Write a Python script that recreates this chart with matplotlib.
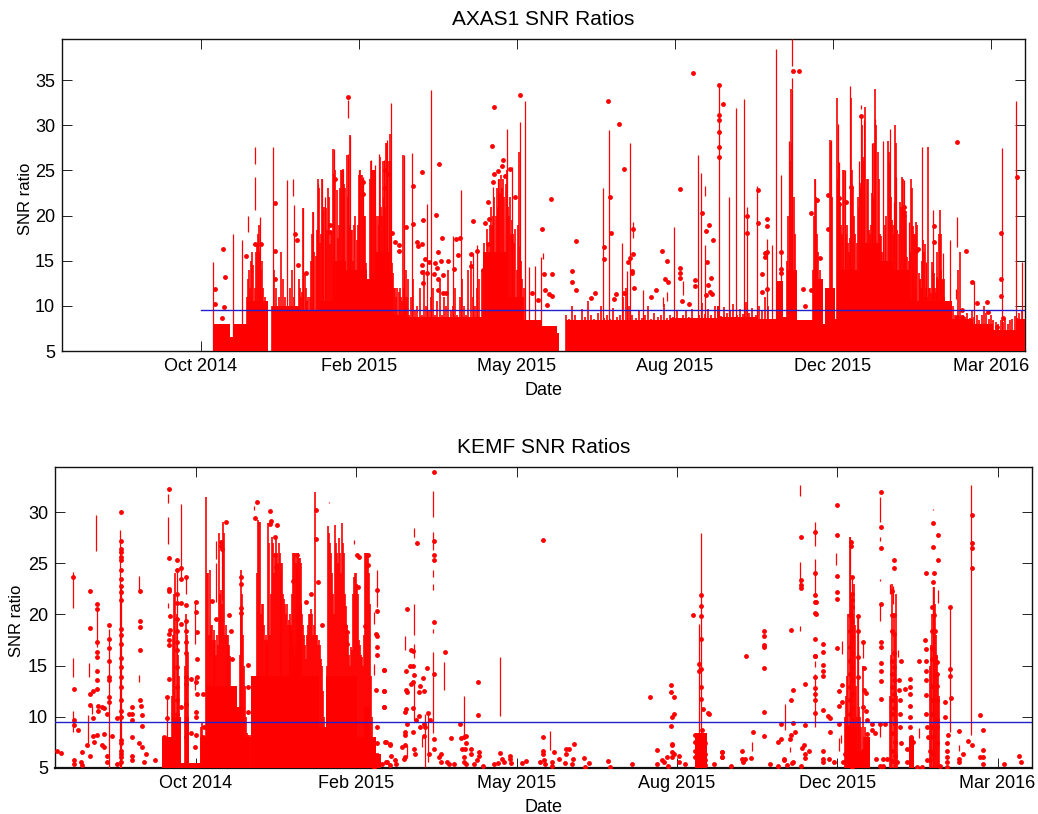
import matplotlib
matplotlib.use("Agg")
import matplotlib.pyplot as plt
import numpy as np

plt.rcParams['font.family'] = ['Liberation Sans', 'DejaVu Sans']

# x values: days after the first labelled tick
TICK_DAYS = [0, 100, 200, 300, 400, 500]
TICK_LABELS = ['Oct 2014', 'Feb 2015', 'May 2015', 'Aug 2015', 'Dec 2015', 'Mar 2016']
THRESHOLD = 9.5

# ---------- AXAS1 ----------
AX_BASE_DAYS = [7.6, 18.4, 20.3, 29, 42.4, 44.9, 62.7, 75.3, 83.7, 92, 105, 111, 119.6, 121.7,
                130, 178.5, 193.7, 204, 215, 225, 226.6, 231, 297, 326.6, 328.5, 352, 364, 368.4,
                371, 377, 387.3, 393.7, 395, 401, 402.5, 417, 430, 438, 449, 475, 488.6, 501, 516, 521.5]
AX_BASE_TOPS = [8, 6.5, 8, 10.5, 5, 10, 9.5, 10.5, 15, 14, 13, 16, 13, 9,
                8.8, 16, 11, 8.4, 7.8, 7, 5, 8.4, 8.6, 10, 8.8, 8.5, 12.8, 8.8,
                14, 8.4, 13, 8, 12, 8.5, 14, 17, 15, 14, 10.5, 8.5, 8, 7.3, 8.5, 8.5]
# finely sampled columns: start day, spacing in days, column tops
AX_ZONE_A_START, AX_ZONE_A_STEP = 62.7, 0.7
AX_ZONE_A = [12, 11, 11.5, 20.8, 13.5, 12, 10.5, 11, 9.5, 11, 15, 18, 20.4, 16, 15.5, 18.4, 24, 23, 17, 18, 24, 20.6, 21,
             20.8, 18.4, 23, 22, 16.9, 18, 18, 27.4, 24.6, 25, 22.8, 17.5, 19, 23, 25, 25, 25.2, 23.5, 23, 26.7, 22, 19,
             28.9, 18.4, 18.4, 15, 19, 20, 17.3, 19, 24.5, 25, 24.5, 24.5, 24, 20, 20, 14.7, 13, 12, 24, 26, 25, 25, 25,
             25, 20, 20, 19, 26.5, 21, 20, 26, 22, 21, 28, 28, 26, 29, 26, 14.7, 13.6, 12, 12, 11, 12, 11.5, 12, 11, 10.5,
             26.7, 12, 11, 14, 11, 13]
AX_ZONE_B_START, AX_ZONE_B_STEP = 178.7, 0.7
AX_ZONE_B = [14, 17, 15.5, 18.5, 17, 16, 19, 21, 19, 20, 22, 20, 23, 21, 24, 22.5, 24.5, 23, 24, 22, 23.5, 25, 21, 20, 22,
             18, 19.5, 18, 17, 18.5, 14, 19, 27, 16.5, 15, 13, 11, 12]
AX_ZONE_C_START, AX_ZONE_C_STEP = 398.1, 0.7
AX_ZONE_C = [28.4, 28, 22, 9, 8, 8.5, 33, 24, 22, 21.5, 19, 18, 25, 25, 18, 19, 17, 16, 17.5, 33, 25, 23, 20, 18, 17, 22,
             21, 23.6, 23, 30, 26.5, 26, 32, 24, 24, 18.4, 18, 19, 22.5, 22, 28, 34, 30, 27, 24, 18, 17.7, 16, 14, 14.5, 19,
             20, 28.2, 27, 25.8, 22, 19.5, 19, 18, 30, 28, 18.4, 18, 21.5, 21, 24.3, 24, 20, 20.2, 20, 15.4, 15, 16, 24, 23,
             18.8, 18, 18, 19.3, 19, 13.6, 13, 12, 11.8, 17.3, 16, 16.9, 12, 11, 27.6, 12, 11.4, 14.9, 14, 13.6, 12, 11.5,
             13.2, 13, 20.6, 18, 13, 12.9, 13]
AX_ZONE_D_START, AX_ZONE_D_STEP = 29, 0.7
AX_ZONE_D = [11, 13, 14, 12, 15, 16, 14.5, 12, 16, 17, 18, 19, 16, 14, 15, 12, 11]
AX_ZONE_E_START, AX_ZONE_E_STEP = 130, 1.4
AX_ZONE_E = [10, 9, 11, 13, 9.5, 10, 12, 9, 14, 10, 9.5, 11, 12, 9, 10.5, 13, 9, 11, 10, 14, 9.5, 10, 12, 9, 11, 13, 10, 9,
             14, 15, 11, 10, 12, 13, 14]
AX_ZONE_F_START, AX_ZONE_F_STEP = 231, 2.0
AX_ZONE_F = [9, 8.5, 10, 9, 8.4, 9.6, 8.8, 10.5, 9, 8.5, 9.2, 10, 8.6, 9, 8.5, 9.8, 8.8, 9, 11, 12, 10, 9, 8.6, 9.4, 8.6, 9,
             10, 8.5, 9.2, 8.8, 9, 10.2, 8.6, 9, 8.8, 9.5, 8.6, 9, 9.4, 8.8, 9.6, 8.7, 9, 10.3, 9.1, 9.6, 9, 10, 9.2, 8.9,
             9.9, 9.2, 9.4, 10.2, 9, 9.6, 9.1, 10.4, 9.2, 9.8, 9, 10, 9.5, 11, 10]
AX_ZONE_G_START, AX_ZONE_G_STEP = 449, 1.5
AX_ZONE_G = [11, 14, 12, 10, 13, 15, 11, 9, 12, 10, 9, 16, 18, 14, 11, 9, 10, 8.6, 10, 9, 14, 16, 9, 8.8, 9.2, 8.6, 9.5, 8.8,
             9, 8.4, 9, 10, 9.2, 8.5, 9, 8.4, 8.2, 8, 8.4, 8.2, 8.6, 8, 8.4, 8.5, 8.9, 8.6, 9.2, 9.5]
AX_ZONE_H_START, AX_ZONE_H_STEP = 44.9, 1.4
AX_ZONE_H = [10, 14, 12, 11, 16, 13, 11, 10, 12, 14, 11, 10, 13]
AX_ZONE_I_START, AX_ZONE_I_STEP = 371, 0.8
AX_ZONE_I = [15, 20, 26, 34, 28, 22, 18, 14]
AX_ZONE_J_START, AX_ZONE_J_STEP = 387.3, 0.7
AX_ZONE_J = [14, 20, 24, 22, 18, 16, 14, 12, 10]
AX_ZONES = [(AX_ZONE_A_START, AX_ZONE_A_STEP, AX_ZONE_A), (AX_ZONE_B_START, AX_ZONE_B_STEP, AX_ZONE_B),
            (AX_ZONE_C_START, AX_ZONE_C_STEP, AX_ZONE_C), (AX_ZONE_D_START, AX_ZONE_D_STEP, AX_ZONE_D),
            (AX_ZONE_E_START, AX_ZONE_E_STEP, AX_ZONE_E), (AX_ZONE_F_START, AX_ZONE_F_STEP, AX_ZONE_F),
            (AX_ZONE_G_START, AX_ZONE_G_STEP, AX_ZONE_G), (AX_ZONE_H_START, AX_ZONE_H_STEP, AX_ZONE_H),
            (AX_ZONE_I_START, AX_ZONE_I_STEP, AX_ZONE_I), (AX_ZONE_J_START, AX_ZONE_J_STEP, AX_ZONE_J)]

AX_SPIKE_DAYS = [7.8, 20.4, 26.1, 37.3, 45.3, 54.2, 59, 64.7, 70.6, 74.2, 76.3, 78.5, 83.9, 90, 94.5, 93, 100.2, 102.5,
                 107.6, 110.1, 112.8, 115.8, 117.9, 120.4, 128.5, 133.7, 145.8, 143, 164.3, 159.7, 172.4, 174.5,
                 193.4, 201.9, 205, 196.6, 188.2, 185, 207.8, 211.4, 215.2, 254.2, 258.4, 266.5, 271.5, 269.8, 279.5,
                 299.4, 314.8, 316.3, 319.2, 327.6, 334, 338.6, 343.7, 345.8, 352.1, 363.9, 366.9, 372.4, 358, 361.2,
                 374, 388.6, 398.7, 403, 403.8, 407.6, 410.6, 416.3, 417.7, 419.6, 424.5, 426.4, 431.9, 436.1, 439.9,
                 445, 438.6, 448.1, 456.3, 463.5, 469.4, 474.1, 458.9, 506.8, 515.8, 519.9, 489.3]
AX_SPIKE_TOPS = [14.9, 18, 17.3, 19.8, 27.6, 23.9, 21.2, 20.8, 20.4, 23.5, 24.1, 22, 27.4, 25, 28.8, 26.8, 25, 24.3,
                 26.1, 25.6, 26.8, 26.1, 28.4, 32.5, 26.7, 26.9, 33.9, 21.3, 22.8, 17.7, 15.8, 16.7,
                 29.6, 30.4, 32.7, 25.4, 24.1, 23.2, 14.3, 14.4, 15.4, 23, 29.5, 17, 28, 13.9, 11.7,
                 18.7, 26.7, 24.7, 16.7, 34.2, 22, 31.9, 32.9, 20.9, 23.3, 38.4, 24.5, 28.3, 17.4, 16.7,
                 34, 24, 28.4, 30.1, 25.9, 25, 34.4, 26, 31.1, 30.6, 28, 30.7, 28.2, 29.6, 24.3,
                 23.9, 21.5, 19.3, 27.6, 20.6, 15.8, 17.3, 14.9, 27.5, 32.7, 14.9, 12.8]
AX_SEG_DAYS = [34.1, 34.1, 29.9, 92.8, 58, 319.2, 216.7, 273.6, 292.6, 294.7, 305.3, 374, 374, 478.3, 477.7, 417.7]
AX_SEG_LOWS = [25.7, 20.6, 18.2, 30.8, 22.2, 22.2, 15.2, 17.5, 10, 10.5, 11.2, 36.6, 34, 16.5, 10.8, 31.8]
AX_SEG_HIGHS = [27.6, 24.3, 20, 32.8, 24, 23.3, 15.9, 19.3, 11, 11.5, 12.8, 39.6, 35.2, 19.8, 11.9, 32.2]
AX_DOT_DAYS = [14.1, 15.2, 8.8, 8.8, 14.5, 13, 28.4, 34.4, 37.7, 46.6, 46.8, 46.6, 59.7, 60.9, 61.4, 66.2, 81.8, 81.6,
               84.6, 93, 102.5, 102.3, 116.4, 118.5, 116.2, 120.9, 122.8, 125.3, 125.5, 129.5, 134.2, 134.2, 136.5,
               137.1, 140.1, 139.9, 140.5, 141.8, 140.1, 140.1, 143.2, 140.7, 144.5, 148.5, 148.1, 151.7, 150.8, 152.3,
               150, 149.6, 147.7, 150, 153.4, 156.1, 149.8, 152.9, 155.3, 161.4, 163.7, 160.3, 162.4, 170.9, 170.9,
               172.4, 174.5, 181.8, 182.3, 179.7, 181.8, 178.3,
               185.6, 184, 185.4, 188.2, 190.3, 191.3, 192.2, 185, 195.6, 198.7, 201.9, 221.5, 215.8, 217.3, 222.1,
               209.3, 213.5, 220.5, 222.4, 217.7, 218.8, 234.6, 237.1, 234.8, 237.1, 246.8, 249.2, 255.1, 255.1, 257.4,
               258.9, 259.7, 264.8, 267.7, 270, 271.5, 273.4, 273.2, 273, 273, 274.3, 267.5, 262.4, 261.4, 284.6, 287.8,
               292, 295, 293.7, 295.4, 303, 303, 303, 303, 304.6, 308.7, 311.6, 312.9, 312.9, 316.9, 319.6, 321.3, 320.3,
               322.8, 320.9, 322.2, 319.6, 323.6, 324.3, 327.9, 330.6, 327.9, 327.9, 327.9, 327.9, 327.9, 345.4, 345.4,
               352.8, 352.8, 358.5, 358.5, 358.5, 357.2, 357.2, 354.9, 358, 354.9, 367.1, 367.1, 366.9, 365.8,
               374.5, 378.5, 386.1, 389.7, 397, 397, 392, 381.2, 386.1, 382.3, 418, 411.2, 408, 404, 404, 478.7, 484,
               464.2, 464.2, 454, 452.5, 445.2, 445.2, 445.2, 506.1, 506.1, 506.1, 516.3, 488.2, 491.4, 497.7, 498.1,
               481.5, 481.5, 478.3, 503.8, 507.8]
AX_DOT_VALS = [16.3, 13.2, 11.9, 10.2, 9.9, 8.7, 15.5, 16.8, 16.8, 21.4, 16.1, 13, 18, 17.3, 14.5, 13.6, 18.9, 18.2,
               24, 33.1, 23.7, 22.4, 25, 24.6, 23, 18.1, 17.1, 16.7, 16.1, 18.7, 23.3, 19.1, 17.1,
               16.6, 24.8, 16.9, 19.5, 15.2, 14.5, 13.7, 13.6, 12.5, 14.9, 20.1, 14.7, 15, 25.7, 17.5,
               16, 14.2, 13.5, 13, 13.4, 15, 11.8, 11.4, 11.4, 17.4, 17.5, 14.1, 15.6, 15.7, 14.4,
               19.4, 16.1, 21.5, 19.6, 19.2, 16.9, 14,
               32.05, 27.7, 24.6, 24.9, 25.5, 26.2, 24.4, 23.7, 25.2, 22, 33.3, 21.8, 18.5, 13.5, 13.5,
               11.4, 10.7, 11.3, 11.1, 11.7, 10.1, 13.9, 17.2, 12.6, 11.8, 10.9, 11.4, 16.5, 15.2, 32.7,
               22.1, 18.1, 30.1, 25.1, 14.9, 15.3, 15.7, 18.5, 13.9, 13.6, 12, 11.4, 11.3, 10.8, 11, 11.7,
               16.1, 15, 13, 12.6, 22.9, 14.2, 13.6, 13.1, 10.5, 10.2, 35.8, 12.9, 12.2, 20.3, 18.3, 19, 14.9,
               13.1, 12.3, 11.5, 11.2, 11.3, 17.3, 34.5, 32.3, 31.1, 30.6, 29.2, 27.6, 26.5, 20, 18.1,
               22.8, 19.2, 19.6, 18.8, 16, 15.9, 15.4, 13.5, 11.9, 11.5, 14.1, 13.6, 16, 11,
               36, 36, 20.3, 21.7, 22.3, 18.5, 15.3, 11.9, 11.7, 10, 31, 23.2, 21.5, 21.9, 21.3, 28.1, 16.1,
               18.8, 17.1, 16.3, 16.1, 21, 20.4, 20.1, 18.1, 13, 11.1, 24.3, 12.6, 10.3, 10.4, 9.3,
               9.5, 8.8, 8.8, 7.7, 8.6]

# ---------- KEMF ----------
KE_BASE_DAYS = [-21.1, -14.8, -9.6, -7.1, -4.4, 2.8, 6.4, 25.7, 29.9, 33.6, 34.4, 76.6, 80.8, 100.5, 104.7, 108.8, 112,
                115.1, 311.4, 318.6, 404.9, 412.2, 416.4, 420.5, 445, 448, 464]
KE_BASE_TOPS = [8, 10, 5.5, 10, 5.5, 8, 13, 11, 8, 5, 14, 9, 14, 8, 11, 8, 6.4, 5, 8.4, 5, 9, 6.7, 8, 5, 8, 5, 5]
KE_ZONE_A_START, KE_ZONE_A_STEP = 2.8, 0.58
KE_ZONE_A = [9, 8, 9.5, 7.5, 8, 8, 31.5, 24, 24, 18, 24.3, 19, 19, 17.5, 17, 18.5, 17.5, 16, 18, 17, 28, 22, 22.4, 21, 29,
             28, 18, 19, 18, 17, 18, 17, 15.9, 13, 12, 11, 11.5, 10, 9.5, 8.5, 8, 9, 16, 20, 24.3, 22, 18, 15, 13, 10, 8.4,
             8.2, 8.2, 8, 8.2, 8, 8, 8, 5.2, 5.2, 5.2, 24, 29.2, 29, 29, 20, 21, 21, 19, 17.5, 18, 17.5, 17, 28.9, 27, 18,
             22, 27.6, 27, 24, 26, 27.6, 26, 25, 27, 26, 25, 24, 25, 22, 21.5, 21, 20, 21, 19, 19.5, 20, 19, 18.5, 17, 16,
             15.5, 16, 17, 26, 26, 25.5, 25.5, 25]
KE_ZONE_B_START, KE_ZONE_B_STEP = 58.9, 0.62
KE_ZONE_B = [19, 18, 22, 26, 26, 26, 25, 24.5, 24, 23, 21, 21, 20, 19, 18, 17, 15.6, 18, 19, 20, 20, 20.5, 20, 18, 19, 32,
             18, 18, 17, 17.5, 17, 15.6, 15, 12.5, 10, 8, 9, 15, 28.6, 28, 27, 26, 24, 22, 20, 28.7, 27, 26, 25, 27.5, 26,
             24, 28.9, 27, 26, 22, 20.8, 19, 18, 16, 15, 16.8, 16.5, 22, 23.7, 24, 24, 23, 22, 17.5, 17, 16, 15.8, 15, 18,
             26, 26, 26, 26, 24, 21, 14, 10, 8, 7, 7.5, 6.5, 6, 6.5, 5.5]
KE_ZONE_C_START, KE_ZONE_C_STEP = -15, 0.7
KE_ZONE_C = [12, 18, 22, 24, 20, 16, 14]
KE_ZONE_D_START, KE_ZONE_D_STEP = -7.1, 0.7
KE_ZONE_D = [15, 20, 18, 16]
KE_ZONE_E_START, KE_ZONE_E_STEP = 404.9, 0.7
KE_ZONE_E = [10, 12, 14, 20, 27.6, 22, 21, 20, 23, 19, 13, 10]
KE_ZONE_F_START, KE_ZONE_F_STEP = 413, 0.7
KE_ZONE_F = [19.8, 11, 10, 9, 15, 8, 9]
KE_ZONE_G_START, KE_ZONE_G_STEP = 433, 0.7
KE_ZONE_G = [12, 16, 23, 20, 18, 22, 12]
KE_ZONE_H_START, KE_ZONE_H_STEP = 458, 0.7
KE_ZONE_H = [15, 17, 20, 22.7, 21, 18, 16, 14, 12]
KE_ZONES = [(KE_ZONE_A_START, KE_ZONE_A_STEP, KE_ZONE_A), (KE_ZONE_B_START, KE_ZONE_B_STEP, KE_ZONE_B),
            (KE_ZONE_C_START, KE_ZONE_C_STEP, KE_ZONE_C), (KE_ZONE_D_START, KE_ZONE_D_STEP, KE_ZONE_D),
            (KE_ZONE_E_START, KE_ZONE_E_STEP, KE_ZONE_E), (KE_ZONE_F_START, KE_ZONE_F_STEP, KE_ZONE_F),
            (KE_ZONE_G_START, KE_ZONE_G_STEP, KE_ZONE_G), (KE_ZONE_H_START, KE_ZONE_H_STEP, KE_ZONE_H)]

KE_SPIKE_DAYS = [-54.3, -12.1, -47.4, -17.9, -47, 408, 460, 413.2, 315.1, 313.5]
KE_SPIKE_TOPS = [18.6, 24.5, 25.6, 12, 22.7, 27.6, 22.7, 19.8, 28, 19.1]
KE_SEG_DAYS = [-76.7, -76.7, -76.7, -66.8, -67.2, -64.7, -62.2, -61.6, -47.7, -35.6, -35.6, -17.3, -17.3, -17.3, -9.6,
               -6.1, -6.1, -0.7, -0.7, 12.2, 12.2, 16.3, 113, 110.9, 110.9, 98.8, 82.8, 36.1,
               135.8, 147.8, 147.8, 147.8, 147.8, 147.8, 135.8, 130.6, 135.8, 135.8, 131.6, 141, 142.6, 144.5, 147.8,
               154.9, 166.9, 189.4, 221,
               376.9, 376.9, 376.9, 386.2, 386.2, 386.2, 386.2, 399.3, 402.8, 426.7, 426.7, 426.7, 426.7, 426.7, 409.1,
               415.9, 438.2, 433, 434.6, 463.1, 460, 460, 470.4, 483.3, 367.1, 346.7, 370.6, 400.8, 402.2, 451.1, 475.8]
KE_SEG_LOWS = [20.6, 13.9, 8.5, 13.9, 7.1, 10.3, 26.2, 16.8, 25.6, 22.4, 13.4, 30.9, 26.9, 20.6, 23.7,
               22, 12.3, 17.1, 12.6, 25.4, 21.2, 21.4, 20.7, 19.1, 14.1, 26.9, 30.9, 30.2,
               27.6, 29.5, 26.3, 23.7, 22.4, 18.2, 18, 16.5, 15.7, 9.7, 6.1, 7.1, 5.1, 5.6, 8.4,
               12.6, 8, 10.1, 6.8,
               31.6, 22.8, 18.4, 26.7, 22, 14.9, 9, 24.8, 16.1, 29, 27.2, 23.3, 19.4, 8, 19.4,
               15.7, 15.8, 22, 21, 21.1, 19.8, 30.2, 8.5, 8.2, 8.7, 6.7, 6.6, 6.7, 7.4, 7.9, 6.7]
KE_SEG_HIGHS = [24.1, 15.7, 10.6, 15.3, 10.2, 11.1, 29.7, 20.6, 28.2, 23.8, 14.1, 31.8, 29.5, 21.1, 30.8,
                23.8, 13.9, 21.1, 13.9, 27.2, 25, 27.2, 24.3, 20.2, 15.2, 27.3, 31, 30.6,
                28.4, 32.1, 28.1, 24.3, 23, 18.6, 21, 17.9, 17.1, 13.4, 7.2, 8, 10.3, 10.5, 16.3,
                15.4, 12, 15.8, 8.6,
                32.6, 25.1, 18.9, 29, 25.4, 15.5, 14.2, 26, 17.4, 31.5, 27.6, 23.5, 21.1, 9.5, 23.7,
                17.3, 16.5, 23, 22.8, 22.4, 22.7, 30.3, 20.7, 32.6, 11.3, 7.5, 7.1, 7.9, 8.2, 8.9, 7.2]

KE_DOT_DAYS_1 = [-86.9, -84.4, -76.7, -76.1, -76.1, -76.1, -76.1, -76.1, -73.4, -70.9, -72, -70.9, -68.2, -66.4, -66.4,
                 -66.4, -66.4, -66.4, -64.3, -64.1, -64.1, -63.7, -61.6, -61.6, -61.6, -61.6, -61.6, -61.6, -61.6, -61.6,
                 -61.2, -61.2, -61.6, -58.5, -57.4, -58.5, -57.4, -57.4, -54.3, -54.3, -54.3, -54.3, -54.3, -54.3, -54.3,
                 -54.3, -55.3, -55.3, -55.3, -52.2, -49.5, -49.5,
                 -47, -47, -47, -47, -47, -47, -47, -47, -47, -47, -47, -47, -47, -47, -47, -47, -47, -47, -47, -47, -47,
                 -47, -47, -47, -47, -47, -47,
                 -39.7, -39.7, -39.7, -41.8, -39.7, -39.7, -39.7, -34.6, -33.5, -33.5, -33.5, -35.2, -35.2, -35.2, -35.2,
                 -35.2, -35.6, -31.4, -32.5, -25.8]
KE_DOT_VALS_1 = [6.7, 6.5, 23.7, 12.7, 9.7, 9.2, 5.8, 5.4, 8.7, 6.6, 5.6, 5.3, 7.2, 22.3, 18.7, 12.2, 11.2, 6.2, 12.5, 9.9,
                 8.1, 7.5, 21, 20.5, 17.3, 16.3, 15.8, 14.5, 13.6, 12.7, 11.1, 10.6, 8.2, 11, 10.9, 7.2, 7.1, 8.3, 19, 17.6,
                 16.7, 15.5, 13.9, 13.6, 11.9, 11.4, 10.3, 6.2, 5.6, 8.1, 9.9, 5.4,
                 30, 27.2, 26.4, 26.1, 25.6, 25.3, 24.3, 23.5, 22.8, 22.2, 21.4, 18.6, 18, 17.1, 15.7, 14.9, 13.9, 12.9,
                 11.6, 10.6, 10, 7.7, 7.4, 6.7, 6.4, 6.1, 5.6,
                 11, 10.3, 8, 10.3, 9.7, 6.2, 5.8, 11.1, 10.2, 9.1, 7.1, 22.3, 19.4, 18.8, 16.5, 11.6, 7.4, 6.4, 5.6, 5.8]
KE_DOT_DAYS_2 = [-16.9, -16.9, -16.9, -16.9, -16.5, -16.5, -16.9, -16.9, -16.9, -16.9, -18.4, -18.4, -20, -20, -20, -20,
                 -18.4, -18.4,
                 -12.1, -12.1, -12.1, -12.1, -12.1, -12.1, -12.1, -12.1, -12.1, -12.1, -12.1, -12.1, -12.1, -12.1, -12.1,
                 -9.2, -9.2, -9.6, -9.2, -9.2, -6.1, -6.1, -6.1, -6.1, -6.1, -6.1, -6.1, -6.1, -6.1, -6.1, -6.1, -3.4, -0.3,
                 -0.3, 0.8, 0.4, 0.8, -0.3, 0.8, 4.3, -0.3, -0.3, -3.4, -0.3, -0.9, 4.9, 4.3,
                 9.7, 12.2, 15.3, 15.7, 15.9, 18.4, 20.5, 22, 22.6, 23.6, 27.8, 27.8, 27.8, 27.8, 32.4, 32.4, 32.4, 38.2,
                 36.7, 45.9, 46.5, 50.6, 49.2, 49.2, 49.6, 45.9, 60.4, 63.1, 71.4, 68.3, 78.7, 74.9, 74.9, 76,
                 100.5, 101.6, 101.1, 93.2, 93.9, 94.3, 95.3, 105.1, 107.2, 107.2, 113, 113, 113, 112, 113, 113, 117.1,
                 117.1, 117.1, 118.2, 120.9, 118.8, 120.9, 112, 112.6, 112.6, 101.6, 105.7, 110.9]
KE_DOT_VALS_2 = [32.3, 25.5, 22.5, 22.3, 19.8, 18.5, 18.1, 17.5, 17, 13.7, 11.9, 9.9, 8, 7.1, 6.4, 5.8, 7.7, 6.7,
                 25.3, 24.3, 22, 21.1, 19.6, 18.4, 17.3, 16.5, 14.9, 12.9, 11.6, 10.3, 9, 7.4, 5.8,
                 24.5, 23.5, 21.1, 19.1, 11, 23.7, 20.9, 19.4, 18.4, 17.3, 16.2, 13.9, 13.2, 11.3, 9.5, 8, 13.7, 21.2,
                 20.2, 18.3, 15.6, 13.9, 13.4, 12.2, 12.2, 10.5, 10, 8.4, 8.2, 7.1, 9, 8,
                 21.3, 19.6, 27.1, 26.7, 26.4, 29, 19.9, 18.4, 15.6, 11.4, 23.7, 23, 20.6, 20.1, 15.1, 12.9, 10.5, 31,
                 29.4, 30.1, 29.1, 28.7, 27.6, 25.8, 24.6, 28.8, 23.3, 25.8, 22, 21.2, 19, 30.2, 27.4, 23.2,
                 25.8, 25.6, 22.7, 18.9, 18.3, 17.1, 11.6, 18.9, 25.8, 24.8, 22.4, 20.3, 17.9, 18.1, 16.8, 16, 14.6,
                 12.5, 11, 7.5, 7.3, 5.6, 5.3, 12.6, 9, 7.4, 5.6, 5.8, 5.1]
KE_DOT_DAYS_3 = [117.1, 117.1, 117.1, 117.7, 121.2, 121.9, 119.2, 116, 124.4, 125, 128.5, 130.6, 129.5, 130.6, 130.2, 130.6,
                 131, 131.6, 131, 131.6, 131.2, 130.6, 131.6,
                 134.3, 135.2, 133.3, 135.2, 135.2, 134.3, 136.2, 135.2, 135.2, 135.8, 136.8, 137.4, 137.9, 138.9, 139.3,
                 139.5, 141.6, 142.4, 139.5, 142.4, 142, 143.1, 144.3, 144.7, 145.5, 146.2, 148.2, 148.2, 148.2, 148.2,
                 148.2, 148.2, 148.2, 148.2, 151.4, 153, 155.1, 153,
                 156.6, 157.6, 159.3, 161.1, 164.5, 165.3, 166.9, 168.6, 168.6, 165.9, 168, 171.5, 171.5, 166.9, 166.9,
                 168.6, 176.3, 176.3, 175.3, 173.2, 179, 176.1, 176.1, 185.7, 188.1, 189.8, 190.8, 191.9, 195.6, 196,
                 196.5, 203.3, 206,
                 216.4, 216.4, 216.4, 216.4, 216.8, 214.7, 217.9, 223.1, 222, 222, 226.2, 231, 232.8, 231, 235.1, 234.5,
                 230.3, 235.5, 242.2, 244.9, 242.4, 256.9, 258.4, 271.9, 283.3, 287.5, 287.5, 290.6, 292, 293.7, 294.3,
                 296.2, 296.2, 297.9, 297.9, 297.2, 296.2, 296.8, 296.8, 296.8, 297.9, 296.8, 301, 301, 305.1,
                 309.9, 315.1, 315.1, 315.1, 315.1, 313.5, 315.1, 313.5, 315.1, 315.1, 316.1, 319.3, 319.7, 311, 311.4,
                 313.5, 311.4, 311.4, 313.5, 313.5, 315.5, 315.5, 315.5, 315.5, 315.5, 317.6, 317.6, 317.6, 317.6, 323.2,
                 328, 328]
KE_DOT_VALS_3 = [14.6, 12.5, 11, 7.5, 7.2, 6.2, 5.6, 5.4, 5.8, 5.4, 7.1, 7.2, 5.9, 8.5, 8.2, 6.1, 14.5, 20.5, 12.6, 12.4,
                 10.8, 10.5, 9.3,
                 16.5, 16.4, 15, 15, 13.4, 13.2, 14.1, 10.9, 8.5, 6.9, 6.4, 9.7, 27, 10.1, 12.4, 13, 13.8, 12.5, 9, 9.3,
                 8.1, 9, 14.8, 10.4, 6.4, 9.7, 14.2, 19.3, 25.3, 25.8, 27.2, 33.9, 7.8, 6.9, 6.1, 6.4, 16.3, 5.6,
                 5.6, 5.4, 7.9, 5.4, 9.3, 7.9, 8, 8.1, 7.4, 6.9, 6.9, 6.9, 6.4, 6.1, 5.6, 5.4, 6.6, 6.2, 5.8, 5.4, 5.2,
                 13.4, 10.2, 5.4, 5.5, 6.5, 5.9, 5.6, 6.2, 5.9, 5.5, 5.5, 5.7,
                 27.3, 8, 6.7, 6.4, 5.8, 5.6, 5.4, 6.6, 5.6, 5.2, 5.9, 6.9, 6.9, 6.4, 5.9, 5.4, 5.5, 7.3, 6, 5.5, 5.1, 5.7,
                 5.1, 5.4, 11.9, 6.8, 5.4, 5.8, 5.6, 6.1, 5.2, 13.1, 12.4, 11.9, 10.3, 10, 9.1, 7.3, 7.2, 6.6, 6.4, 6.1,
                 6.2, 5.6, 5.4,
                 19.9, 21.9, 20.8, 19.8, 17.6, 15.2, 14.7, 14.5, 12.9, 11.7, 10.8, 10.4, 10.3, 8.2, 7.5, 8, 6.7, 6.1, 7.2,
                 6.4, 8.7, 7.5, 6.7, 6.1, 5.6, 7.4, 6.4, 5.8, 5.3, 5.4, 6.6, 6.1]
KE_DOT_DAYS_4 = [328, 328, 340.5, 340.5, 341.1, 343, 342.6, 346.1, 347.2, 333.6, 354, 354, 354, 354, 354, 354, 354, 357.8,
                 362.9, 362.9, 365, 365, 366.9, 366.5, 368.6, 371.3, 371.3, 372.3, 371.1, 370.6, 373.5, 372.3, 371.7,
                 372.7, 377.5, 377.5, 377.5, 377.5, 379.6, 379.6, 379, 377.9, 379.6, 382.1, 379.6, 377.5,
                 386.2, 386.2, 386.2, 386.2, 386.8, 386.2, 386.8, 386.2, 386.2, 386.2, 386.2, 386.2, 386.2, 386.2, 386.2,
                 391.4, 391.4, 391.4, 391.4, 391.4, 391.4, 394.5, 395.6, 395.2, 391.4, 391.4, 391.4, 395, 397.7, 399.7,
                 399.7, 399.7, 399.7, 399.7, 399.7, 401.2, 403.1, 401.2, 403.1, 401.2,
                 408.5, 408.5, 409.1, 409.3, 409.3, 409.3, 408, 409.3, 408, 409.3, 408, 409.3, 408, 409.3, 408, 409.3, 408,
                 409.3, 408, 409.3, 408, 409.3, 407, 410.1, 407, 410.1, 407, 410.1, 407, 410.1, 404.9, 408, 411.2, 403.9, 407,
                 410.1, 409.1,
                 413.2, 413.2, 413.2, 413.2, 415.9, 416.4, 416.4, 417.8, 415.9, 417.8, 418.4, 418.4, 418.4, 415.9, 418.4,
                 415.9, 418.4, 421.5, 421.5, 423.6, 424.2, 428.8, 426.7, 427.2, 427.2, 427.2, 427.2, 427.2, 427.2, 427.2,
                 427.2, 427.2, 427.2, 429.9, 430.9, 426.7, 428.8]
KE_DOT_VALS_4 = [6.6, 6.1, 6.7, 5.9, 5.6, 15.9, 5.9, 6, 8.5, 5.2, 18.4, 17.9, 17, 16.8, 14.8, 10.5, 8.1, 5.4,
                 7.5, 5.2, 9.3, 7.8, 5.9, 5.8, 5.3, 18.5, 11.6, 12.6, 8.2, 7.8, 8.5, 9.4, 5.5, 5.6, 27.6, 23.4, 22.9,
                 22.6, 13.2, 9.2, 7.2, 7, 6.4, 6.7, 6, 5.2,
                 28.1, 24, 21.9, 21.2, 21.2, 20.1, 20, 17.6, 15.9, 15.9, 13.9, 12.8, 12.2, 11.6, 10.4,
                 17.1, 16.3, 15.1, 14.5, 14, 10.7, 10.1, 9.9, 8.5, 6.7, 5.9, 5.6, 5.9, 5.6, 30.7,
                 27.8, 23.8, 22.2, 21.5, 16.7, 12.5, 13.1, 11.1, 11.4, 9.3,
                 27.1, 26.7, 23.7, 22, 21.4, 20.7, 19.9, 19.4, 18.4, 17.8, 16.8, 16.2, 15.5, 14.9, 14.2, 13.6, 12.9, 12.2,
                 11.6, 10.9, 10.3, 9.7, 9, 9, 8.4, 8.4, 7.7, 7.7, 7, 7, 6.4, 6.4, 6.4, 5.6, 5.6, 5.6, 5.1,
                 19.8, 18.4, 15.8, 13.9, 17.3, 14.8, 12.6, 12.3, 11, 10.6, 9.7, 8.3, 7.3, 6.7, 6.4, 5.7, 5.6, 9.3, 8.7,
                 8.4, 5.9, 5.9, 9.3, 32, 28.5, 26.5, 21, 17.3, 16.8, 15.3, 14.5, 13.5, 11.7, 9.3, 5.9, 5.2, 5.2]
KE_DOT_DAYS_5 = [435.3, 435.3, 434, 434, 435.1, 434, 435.1, 435.1, 434, 435.1, 434, 435.1, 434, 435.1, 434, 435.1, 434,
                 436.1, 434, 436.1, 434, 436.1, 434, 437.1, 439.8, 438.6, 438.8, 439.2, 439.2, 439.2, 439.8, 442.3,
                 443.4, 443.4, 445.4, 445.4, 445.4, 445.4, 445.4, 445.4, 445.9, 445.9, 445.9, 445.9, 447.5, 450.9, 450,
                 452.9,
                 455.4, 460, 463.1, 460, 460.4, 462.9, 460, 459, 460.4, 459, 461, 454.8, 455.4, 459, 461, 462.1, 455.4,
                 455.4, 459, 462.1, 455.4, 459, 462.1, 455.4, 459, 462.1, 455.4, 459, 462.1, 455.8, 459, 462.1, 456.9,
                 460, 462.1, 457.9, 460, 455.8, 457.9, 464.1,
                 470.4, 470.4, 470.4, 471.2, 467.1, 467.1, 469.3, 468.7, 468.7, 468.7, 468.7, 468.7, 475.8, 476.2, 476.2,
                 478.7, 481.8, 483.9, 483.9, 483.9, 483.9, 483.9, 489.1, 490.7, 490.7, 489.1, 490.7, 490.7, 504, 513.6,
                 514.4]
KE_DOT_VALS_5 = [25.3, 24.5, 22.3, 19.9, 19.9, 18.4, 18.1, 16.2, 15.5, 14.9, 14.2, 13.6, 12.9, 12.2, 11.6, 10.9, 10.3,
                 9.3, 8.4, 7.5, 6.7, 6.2, 5.7, 5.6, 15.5, 13.6, 12.6, 11.6, 10.3, 9, 7.4, 12.7, 6.9, 5.6, 13.7, 12.9, 12.2,
                 11.1, 10, 9, 8, 7.4, 6.4, 5.6, 7.5, 15.5, 5.1, 5.1,
                 24, 28.9, 27.8, 26.6, 24, 25.3, 23.2, 20.7, 19.9, 18.4, 18.4, 17.5, 16.6, 16.7, 15.8, 15.4, 15.5, 14.5,
                 15.6, 14.2, 13.6, 13, 13, 12.1, 11.6, 11.6, 10.3, 10.3, 9.7, 9, 9, 9, 8, 8, 7.4, 6.7, 6.4, 5.8, 5.8, 5.2,
                 20.7, 14.7, 14, 11.8, 11.4, 10, 8.2, 7.4, 6.7, 6.1, 5.6, 5.1, 8.6, 5.9, 5.6, 6.4, 7.6, 29.7, 27, 26.5, 24.5,
                 7.2, 10.2, 8.7, 6.8, 6.1, 6.1, 5.4, 5.4, 6.2, 5.6]


def draw(ax, base_d, base_t, zones, sp_d, sp_t, seg_d, seg_l, seg_h, dot_d, dot_v, line_from):
    red = '#ff0000'
    ax.fill_between(base_d, 5, base_t, step='post', color=red, lw=0, zorder=3)
    for start, step, tops in zones:
        ax.vlines(start + step * np.arange(len(tops)), 5, tops, color=red, lw=1.2, zorder=3)
    ax.vlines(sp_d, 5, sp_t, color=red, lw=0.9, zorder=3)
    ax.vlines(seg_d, seg_l, seg_h, color=red, lw=0.9, zorder=3)
    ax.plot(dot_d, dot_v, ls='none', marker='o', ms=3.5, mec=red, mfc=red, mew=0, zorder=3.1)
    ax.plot(line_from, [THRESHOLD, THRESHOLD], color='#2222cc', lw=1.0, zorder=4)
    ax.set_xlim(-88, 521.5)
    ax.set_xticks(TICK_DAYS)
    ax.set_xticklabels(TICK_LABELS)
    ax.set_axisbelow(True)
    ax.tick_params(axis='both', which='major', direction='in', top=True, right=True, length=7, width=0.7,
                   labelsize=13, pad=5, color='#222222')
    for s in ax.spines.values():
        s.set_linewidth(1.0)
        s.set_color('#111111')
    ax.set_xlabel('Date', fontsize=13, labelpad=5)
    ax.set_ylabel('SNR ratio', fontsize=12)


fig = plt.figure(figsize=(10.38, 8.14), dpi=100)
W, H = 1038.0, 814.0
ax1 = fig.add_axes([62 / W, 1 - 351 / H, 963 / W, 312 / H])
ax2 = fig.add_axes([55 / W, 1 - 768 / H, 977 / W, 301 / H])

draw(ax1, AX_BASE_DAYS, AX_BASE_TOPS, AX_ZONES, AX_SPIKE_DAYS, AX_SPIKE_TOPS, AX_SEG_DAYS, AX_SEG_LOWS, AX_SEG_HIGHS,
     AX_DOT_DAYS, AX_DOT_VALS, [0, 521.5])
ke_days = KE_DOT_DAYS_1 + KE_DOT_DAYS_2 + KE_DOT_DAYS_3 + KE_DOT_DAYS_4 + KE_DOT_DAYS_5
ke_vals = KE_DOT_VALS_1 + KE_DOT_VALS_2 + KE_DOT_VALS_3 + KE_DOT_VALS_4 + KE_DOT_VALS_5
draw(ax2, KE_BASE_DAYS, KE_BASE_TOPS, KE_ZONES, KE_SPIKE_DAYS, KE_SPIKE_TOPS, KE_SEG_DAYS, KE_SEG_LOWS, KE_SEG_HIGHS,
     ke_days, ke_vals, [-88, 521.5])

ax1.set_ylim(5, 39.55)
ax1.set_yticks([5, 10, 15, 20, 25, 30, 35])
ax2.set_ylim(5, 34.4)
ax2.set_yticks([5, 10, 15, 20, 25, 30])
ax2.spines['bottom'].set_linewidth(1.6)
ax1.set_title('AXAS1 SNR Ratios', fontsize=15, pad=10)
ax2.set_title('KEMF SNR Ratios', fontsize=15, pad=10)
ax1.yaxis.set_label_coords((33 - 62) / 963, 0.487)
ax2.yaxis.set_label_coords((24 - 55) / 977, 0.488)
fig.savefig('out.png', dpi=100)
